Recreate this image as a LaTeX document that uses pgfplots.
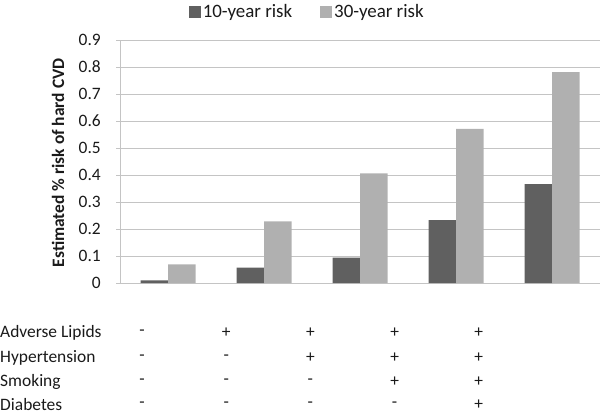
\documentclass[border=0pt]{standalone}
\usepackage{fontspec}
\setmainfont{Carlito}
\usepackage{pgfplots}
\pgfplotsset{compat=1.18}
\definecolor{darkbar}{HTML}{606060}
\definecolor{lightbar}{HTML}{B0B0B0}
\definecolor{gridc}{HTML}{C4C4C4}
\definecolor{txt}{HTML}{1A1A1A}
\newcommand{\fs}{\fontsize{17.5}{20}\selectfont}
\newcommand{\fl}{\fontsize{19}{22}\selectfont}
\begin{document}
\begin{tikzpicture}[x=1bp,y=1bp]
\useasboundingbox (0,0) rectangle (600,-415);
\begin{axis}[
  at={(120bp,-283bp)}, anchor=south west,
  scale only axis, width=480bp, height=243bp,
  ymin=0, ymax=0.9, xmin=-0.5, xmax=4.5,
  ytick={0,0.1,...,0.9},
  yticklabel style={/pgf/number format/fixed,/pgf/number format/precision=1, font=\fs, text=txt, inner sep=0pt, xshift=-15bp},
  /pgf/number format/assume math mode=true,
  xtick=\empty,
  ymajorgrids, grid style={gridc, line width=0.8pt},
  axis line style={gridc, line width=0.8pt},
  axis x line*=bottom, axis y line*=left,
  tick style={gridc, line width=0.8pt}, ytick align=outside, major tick length=4bp,
  ybar=0pt, bar width=27.5bp,
  ylabel={\bfseries Estimated \% risk of hard CVD},
  ylabel style={font=\fs, text=txt, at={(axis description cs:-0.129,0.495)}, anchor=center, inner sep=0pt},
  legend style={at={(0.39,1.115)}, anchor=center, draw=none, font=\fl, text=txt, legend columns=2, inner sep=0pt, /tikz/every even column/.append style={column sep=26bp}, nodes={inner sep=2bp}},
  legend image code/.code={\fill[#1] (0bp,-6bp) rectangle (12bp,6bp);},
]
\addplot[fill=darkbar, draw=none] coordinates {(0,0.010) (1,0.057) (2,0.094) (3,0.233) (4,0.366)};
\addplot[fill=lightbar, draw=none] coordinates {(0,0.069) (1,0.228) (2,0.406) (3,0.571) (4,0.781)};
\legend{10-year risk, 30-year risk}
\end{axis}
\begin{scope}[every node/.style={font=\fs, text=txt}]
\foreach \lab/\yy/\s in {Adverse Lipids/-333/{-,+,+,+,+}, Hypertension/-357.5/{-,-,+,+,+}, Smoking/-382/{-,-,-,+,+}, Diabetes/-404.5/{-,-,-,-,+}}{
  \node[anchor=west, inner sep=0pt] at (0,\yy) {\lab};
  \foreach \v [count=\i] in \s {
    \pgfmathsetmacro{\xx}{142+84.2*(\i-1)}
    \node[inner sep=0pt] at (\xx,\yy) {\v};
  }
}
\end{scope}
\end{tikzpicture}
\end{document}
